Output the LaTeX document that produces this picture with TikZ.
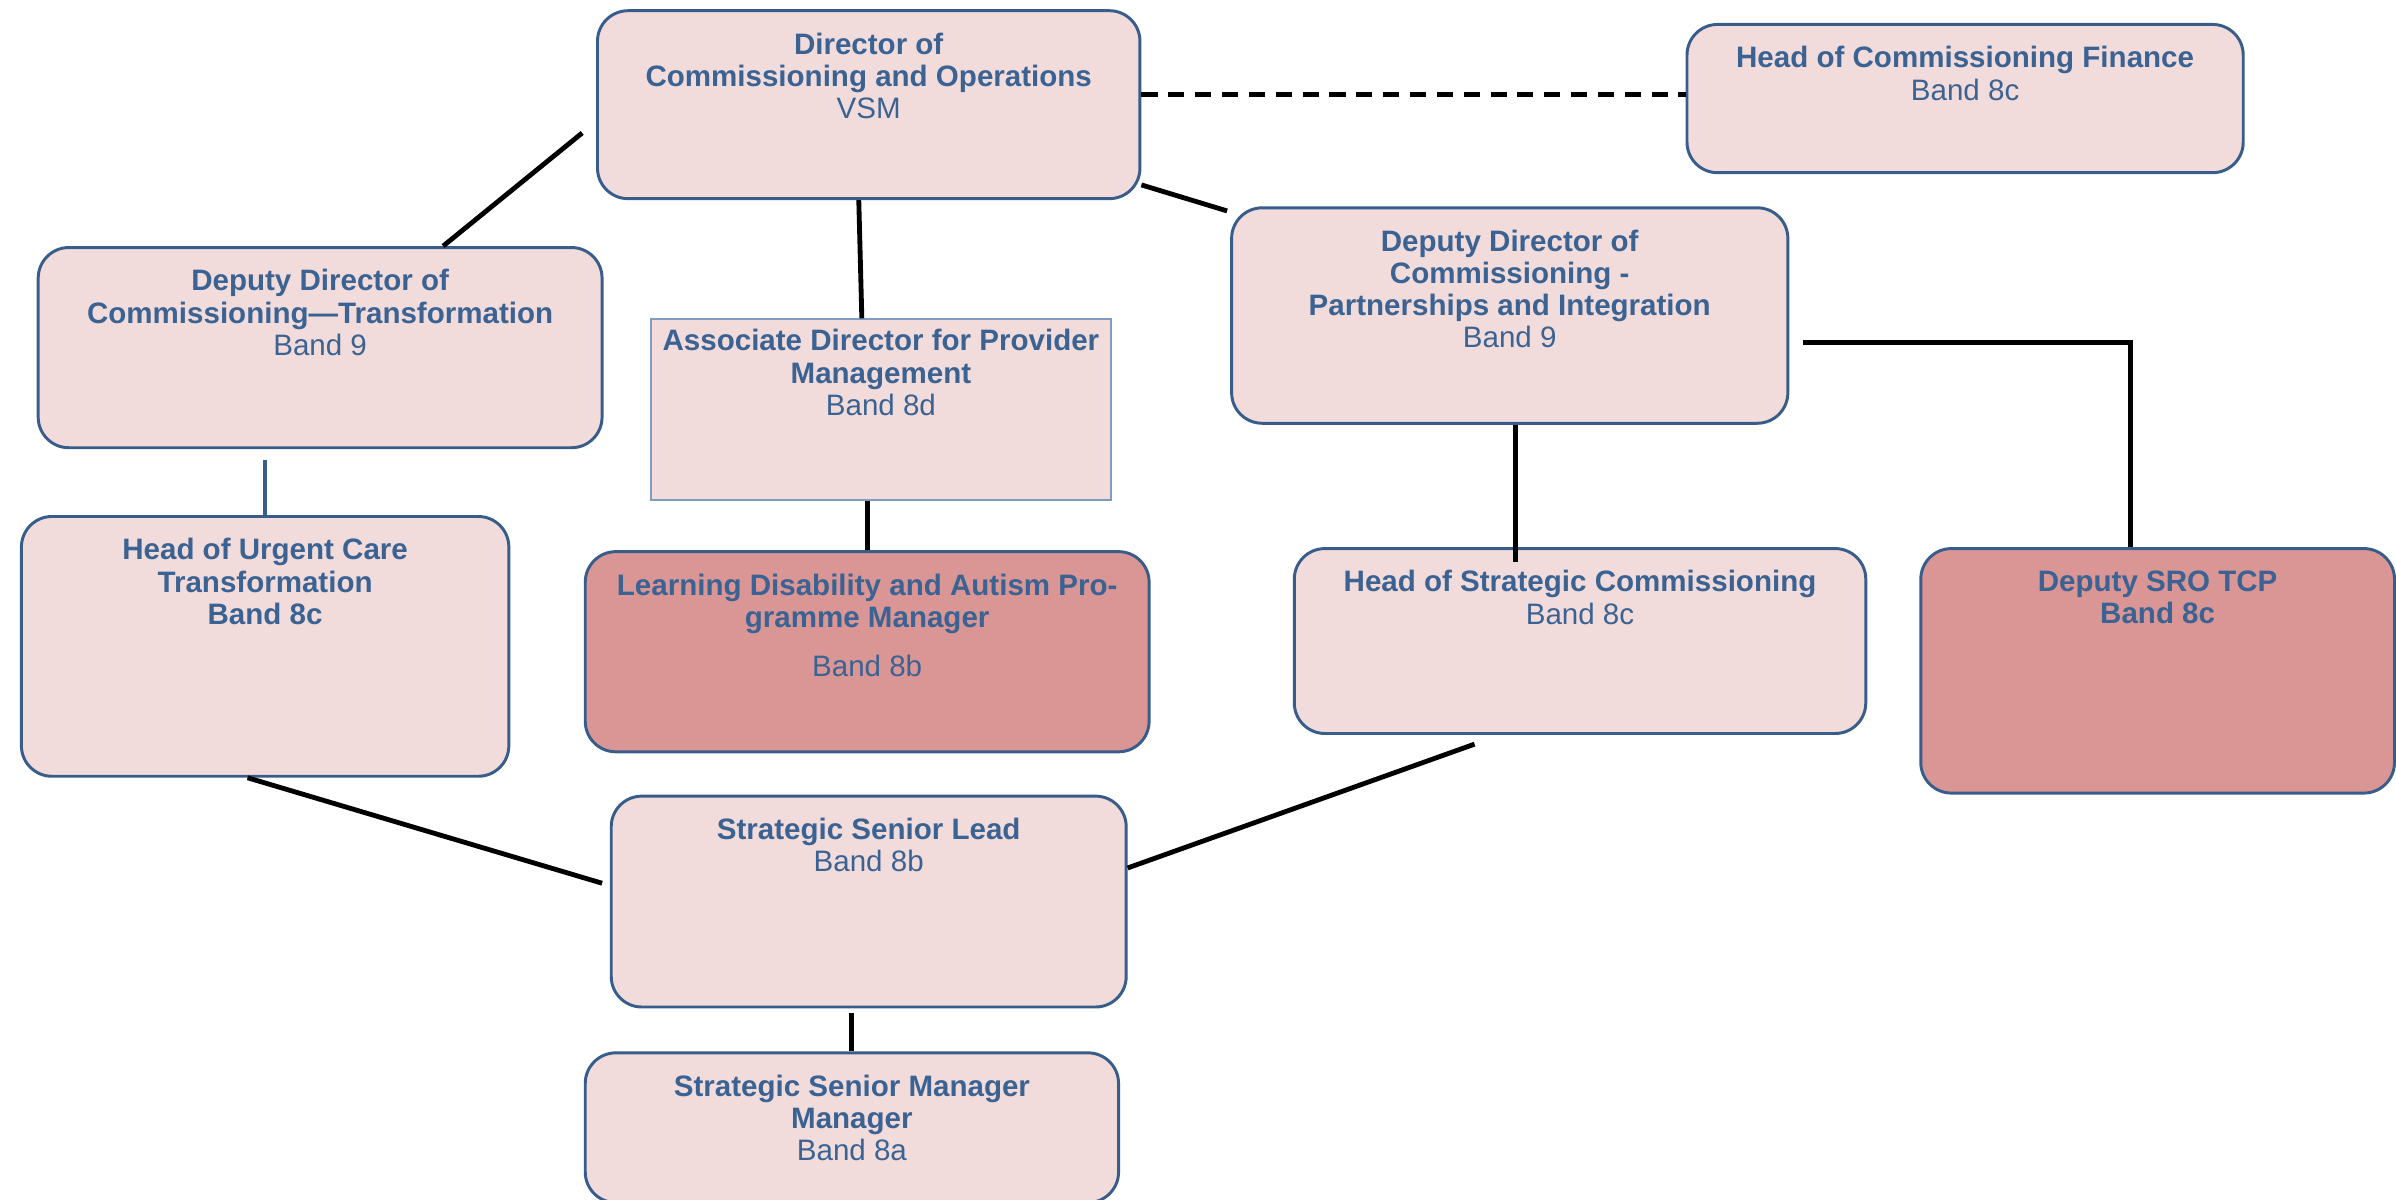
\documentclass[tikz,border=0pt]{standalone}
\usepackage{fontspec}
\setmainfont{Liberation Sans}
\usepackage{tikz}
\definecolor{palepink}{HTML}{F2DCDB}
\definecolor{rosepink}{HTML}{D99694}
\definecolor{boxline}{HTML}{385D8A}
\definecolor{softline}{HTML}{7F9DC0}
\definecolor{txtblue}{HTML}{3A6292}

\begin{document}
\begin{tikzpicture}[
	box/.style={draw=boxline, line width=1.1pt, fill=palepink, rounded corners=0.4cm},
	hot/.style={box, fill=rosepink},
	txt/.style={anchor=north, align=center, inner sep=0pt, text=txtblue, font=\fontsize{11}{12}\selectfont, yshift=-0.30cm},
	link/.style={line width=1.8pt}
	]
		\useasboundingbox (0,0) rectangle (31.36,-15.70);

		\node[box, minimum width=7.10cm, minimum height=2.46cm] (dir) at (11.37,-1.37) {};
		\node[txt] (dirtxt) at (dir.north) {\textbf{Director of}\\\textbf{Commissioning and Operations}\\VSM};

		\node[box, minimum width=7.28cm, minimum height=1.94cm] (hcf) at (25.72,-1.29) {};
		\node[txt] (hcftxt) at (hcf.north) {\textbf{Head of Commissioning Finance}\\Band 8c};

		\node[box, minimum width=7.38cm, minimum height=2.62cm] (ddt) at (4.19,-4.55) {};
		\node[txt] (ddttxt) at (ddt.north) {\textbf{Deputy Director of}\\\textbf{Commissioning---Transformation}\\Band 9};

		\node[draw=softline, line width=0.8pt, fill=palepink, minimum width=6.02cm, minimum height=2.36cm] (adpm) at (11.53,-5.36) {};
		\node[txt, yshift=0.16cm] (adpmtxt) at (adpm.north) {\textbf{Associate Director for Provider}\\\textbf{Management}\\Band 8d};

		\node[box, minimum width=7.28cm, minimum height=2.82cm] (ddp) at (19.76,-4.13) {};
		\node[txt] (ddptxt) at (ddp.north) {\textbf{Deputy Director of}\\\textbf{Commissioning -}\\\textbf{Partnerships and Integration}\\Band 9};

		\node[hot, minimum width=7.38cm, minimum height=2.62cm] (lda) at (11.35,-8.53) {};
		\node[txt] (ldatxt) at (lda.north) {\textbf{Learning Disability and Autism Pro-}\\\textbf{gramme Manager}\\[0.22cm]Band 8b};

		\node[box, minimum width=6.38cm, minimum height=3.40cm] (huct) at (3.47,-8.46) {};
		\node[txt] (hucttxt) at (huct.north) {\textbf{Head of Urgent Care}\\\textbf{Transformation}\\\textbf{Band 8c}};

		\node[box, minimum width=7.48cm, minimum height=2.42cm] (hsc) at (20.68,-8.39) {};
		\node[txt] (hsctxt) at (hsc.north) {\textbf{Head of Strategic Commissioning}\\Band 8c};

		\node[hot, minimum width=6.20cm, minimum height=3.20cm] (sro) at (28.24,-8.78) {};
		\node[txt] (srotxt) at (sro.north) {\textbf{Deputy SRO TCP}\\\textbf{Band 8c}};

		\node[box, minimum width=6.74cm, minimum height=2.76cm] (ssl) at (11.37,-11.80) {};
		\node[txt] (ssltxt) at (ssl.north) {\textbf{Strategic Senior Lead}\\Band 8b};

		\node[box, minimum width=6.98cm, minimum height=1.96cm] (ssm) at (11.15,-14.76) {};
		\node[txt] (ssmtxt) at (ssm.north) {\textbf{Strategic Senior Manager}\\\textbf{Manager}\\Band 8a};

		\coordinate (dirleft) at (7.62,-1.74);
		\draw[link] (dirleft) -- ([xshift=1.61cm]ddt.north);
		\draw[link] ([xshift=-0.13cm]dir.south) -- ([xshift=-0.25cm]adpm.north);
		\draw[link] ([yshift=-1.05cm]dir.east) -- ([xshift=-0.04cm,yshift=-0.06cm]ddp.north west);
		\draw[link, dash pattern=on 6pt off 4pt] ([yshift=0.13cm]dir.east) -- ([yshift=0.13cm]dir.east -| hcf.west);
		\draw[link] (lda.north |- adpm.south) -- (lda.north);
		\draw[boxline, line width=1.4pt] ([yshift=-0.14cm]huct.north |- ddt.south) -- (huct.north);
		\draw[link] ([xshift=0.08cm]ddp.south) -- ([xshift=0.08cm,yshift=-0.2cm]ddp.south |- hsc.north);
		\draw[link] ([xshift=0.18cm,yshift=-0.35cm]ddp.east) -| ([xshift=-0.36cm]sro.north);
		\draw[link] ([xshift=-0.23cm]huct.south) -- ([xshift=-0.1cm,yshift=0.24cm]ssl.west);
		\draw[link] ([xshift=-1.38cm,yshift=-0.12cm]hsc.south) -- ([yshift=0.44cm]ssl.east);
		\draw[link] ([yshift=-0.06cm]ssm.north |- ssl.south) -- (ssm.north);
	\end{tikzpicture}
\end{document}
